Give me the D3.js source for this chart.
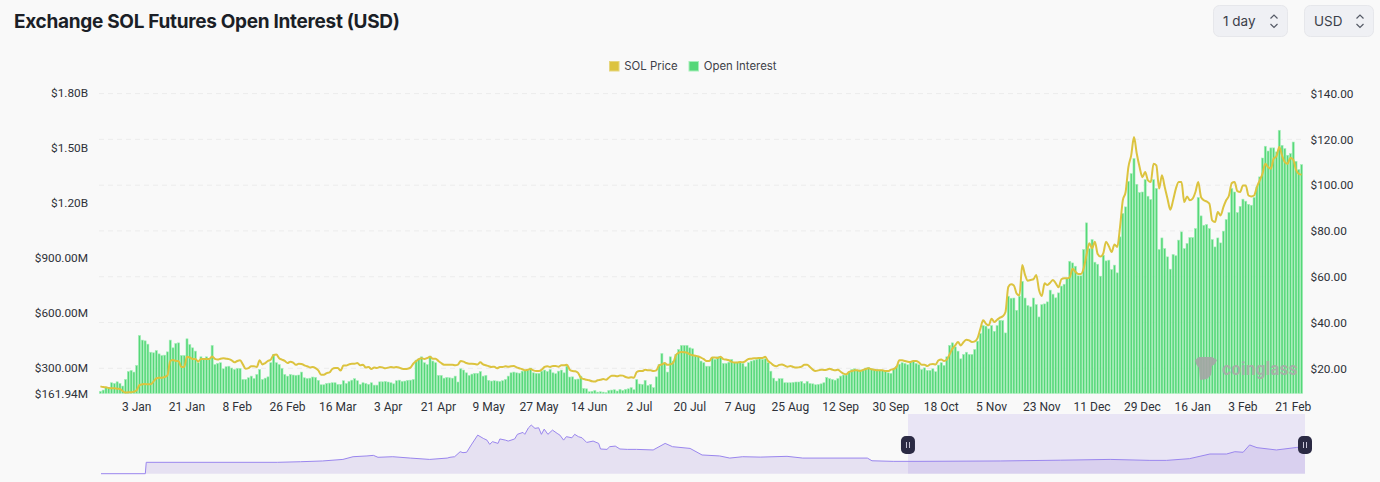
<!DOCTYPE html>
<html>
<head>
<meta charset="utf-8">
<script src="https://cdn.jsdelivr.net/npm/d3@7/dist/d3.min.js"></script>
<style>
html, body { margin: 0; padding: 0; background: #f9f9f9; overflow: hidden; }
svg { display: block; }
</style>
</head>
<body>
<svg width="1380" height="482"></svg>
<script>
// open interest per day, $M
const oi_values = [
173,180,196,193,220,216,225,216,202,238,
281,287,278,314,477,452,448,430,386,383,
395,377,368,370,388,452,410,434,437,368,
368,459,428,410,392,329,361,350,361,347,
423,319,325,329,296,307,310,300,292,298,
298,238,238,247,256,243,265,292,238,245,
252,329,374,329,319,298,265,256,265,262,
260,262,278,247,243,245,251,249,233,209,
209,216,218,220,220,211,211,231,216,227,
234,242,231,211,220,216,211,220,207,207,
225,225,227,224,220,214,231,234,227,229,
233,234,238,343,350,361,329,319,365,338,
329,260,260,245,249,247,245,256,224,
296,289,274,260,267,271,271,281,256,260,
233,229,231,229,227,231,238,256,274,278,
274,272,283,289,292,300,274,271,271,283,
289,281,292,274,269,283,289,274,310,251,
252,238,240,256,189,187,171,173,178,169,
171,169,166,178,180,182,175,184,178,184,
187,193,182,238,213,211,233,205,211,193,
252,319,379,325,278,361,338,374,401,423,
423,423,410,405,368,365,338,329,310,310,
356,347,361,356,325,325,332,347,329,332,
332,325,307,329,338,343,347,350,347,350,
329,283,245,229,242,242,220,220,220,222,
224,224,227,216,227,216,214,209,211,214,
220,249,242,238,234,242,256,262,262,278,
292,296,289,290,289,300,303,296,292,292,
289,287,281,274,271,292,310,321,329,325,
318,332,339,325,318,
292,301,287,287,296,280,316,329,314,
361,423,437,415,392,350,374,386,374,374,
401,446,488,531,528,513,531,500,531,560,
558,491,691,680,681,614,691,772,681,640,
633,681,645,578,645,649,660,
724,702,682,709,746,756,787,881,872,854,
802,802,945,1090,950,999,876,865,800,914,883,
887,836,860,818,1014,1141,1177,1316,1358,1440,
1300,1255,1258,1325,1235,1217,1325,1277,945,1008,
950,905,838,918,911,996,1041,950,978,1010,
1010,1059,1228,1128,1077,1081,1059,999,959,1008,
981,1045,1108,1146,1277,1258,1146,1180,1219,1208,
1191,1186,1228,1286,1340,1443,1507,1481,1498,1498,
1476,1594,1512,1494,1458,1467,1530,1425,1380,1407
]

// SOL price per day, $
const price_values = [
12.1,11.8,11.7,11.4,11.3,11.3,11.1,11.0,10.0,9.4,
9.5,9.5,9.8,10.4,12.7,13.0,13.1,13.0,13.0,14.2,
15.6,15.9,15.9,16.2,16.9,23.2,23.6,23.2,23.1,20.6,
20.6,25.0,24.7,24.1,24.1,22.9,24.1,24.1,24.1,24.1,
25.2,24.1,23.8,24.2,24.4,24.2,24.0,23.5,22.6,23.2,
23.5,21.7,19.8,20.1,20.9,20.9,20.6,23.5,21.7,22.3,
23.2,23.8,25.8,26.0,24.4,23.8,23.2,22.3,22.9,22.5,
21.5,22.0,21.9,21.3,20.9,20.4,20.6,20.1,19.1,17.2,
17.2,17.9,18.2,19.7,20.1,20.1,19.0,21.2,21.2,21.7,
22.0,22.0,22.3,21.3,21.6,20.3,20.6,19.7,20.4,20.1,
20.6,20.4,20.0,20.3,20.6,20.4,20.6,20.3,19.8,19.7,
19.8,20.3,22.0,23.1,24.0,24.4,24.1,24.5,25.0,24.2,
24.2,23.2,22.3,21.6,21.6,21.5,21.6,21.3,21.6,
23.2,22.9,22.3,22.0,22.0,21.9,21.7,22.6,21.7,21.3,
20.9,20.6,20.7,20.0,20.6,20.6,20.9,20.7,20.9,21.0,
20.4,20.0,19.6,19.1,19.4,19.7,19.1,18.8,18.8,19.4,
20.6,20.9,20.6,21.0,21.0,20.7,21.3,21.3,21.6,19.4,
18.8,18.7,18.0,15.9,15.3,15.0,14.8,14.3,14.2,14.8,
15.0,15.3,15.0,15.9,16.8,16.8,16.5,16.9,16.8,16.2,
15.9,16.1,15.9,18.4,18.8,18.8,19.4,19.1,19.1,18.8,
19.1,21.3,21.7,22.3,21.5,21.7,22.3,25.7,26.8,27.1,
27.0,26.8,26.1,25.7,25.5,25.2,24.7,24.0,23.2,23.2,
24.7,24.7,24.5,25.0,24.0,23.8,23.5,22.8,22.5,22.5,
22.8,22.6,23.2,24.1,24.2,24.4,24.4,24.5,24.5,25.0,
23.2,22.3,21.3,20.9,21.5,21.7,21.2,20.7,21.0,20.6,
20.3,20.4,20.7,21.5,21.5,20.6,19.4,18.8,19.1,19.4,
19.3,19.4,19.8,19.4,19.1,19.4,18.5,17.7,17.4,18.4,
18.8,19.1,19.1,18.8,19.3,19.7,20.0,19.6,19.4,19.1,
19.1,19.1,18.8,18.8,19.4,19.7,20.6,23.5,23.5,23.2,
22.9,22.8,23.2,23.2,22.6,
21.6,21.6,21.0,21.7,21.9,21.7,23.5,23.8,23.2,
23.8,26.1,28.6,30.0,31.5,30.0,31.5,32.5,32.2,31.5,
31.8,33.2,37.3,41.0,39.5,38.8,41.7,40.2,41.2,42.1,
42.7,44.6,55.5,56.7,56.2,52.6,51.9,
65.1,60.8,58.3,58.6,58.9,60.8,54.2,51.6,57.1,56.4,
57.4,58.6,57.1,55.4,58.9,59.3,59.3,59.8,63.5,62.2,
61.2,61.2,63.7,69.5,74.6,72.4,75.3,69.9,68.8,70.2,75.3,
73.3,70.8,74.1,73.0,81.7,93.4,97.0,107.9,113.0,121.0,
113.7,107.9,103.5,105.7,102.1,101.4,109.4,108.6,98.5,104.3,
99.2,94.1,89.3,93.4,98.5,101.4,101.4,92.6,95.1,93.4,
94.1,97.0,101.4,94.8,93.4,92.9,91.9,84.6,83.9,88.3,
86.8,90.4,93.4,95.5,100.9,101.4,97.4,97.0,99.9,99.9,
95.5,95.1,95.5,99.2,102.1,105.0,109.4,107.9,107.2,111.6,
112.6,116.7,113.0,110.1,109.4,112.0,111.1,106.7,105.0,104.6
]

// day index of each x axis label, first day is 21 Dec
const x_tick_days = d3.range(13, 431, 18)
const x_tick_labels = ["3 Jan","21 Jan","8 Feb","26 Feb","16 Mar","3 Apr","21 Apr","9 May","27 May","14 Jun","2 Jul","20 Jul","7 Aug","25 Aug","12 Sep","30 Sep","18 Oct","5 Nov","23 Nov","11 Dec","29 Dec","16 Jan","3 Feb","21 Feb"]

const left_tick_values = [161.94, 300, 600, 900, 1200, 1500, 1800]
const left_tick_labels = ["$161.94M","$300.00M","$600.00M","$900.00M","$1.20B","$1.50B","$1.80B"]
const right_tick_values = [20, 40, 60, 80, 100, 120, 140]
const right_tick_labels = ["$20.00","$40.00","$60.00","$80.00","$100.00","$120.00","$140.00"]

// overview strip: whole history, sampled by eye. days from start / open interest in $B
const overview_days = [
0,48,49,191,216,240,262,273,288,295,300,316,335,356,375,
378,383,389,392,396,401,408,414,418,421,424,430,432,438,441,
448,451,457,459,463,466,470,474,477,480,484,489,494,497,501,
504,510,513,517,521,526,533,539,541,548,551,557,562,
570,580,598,611,619,638,651,670,681,695,714,743,760,830,835,858,887,
974,1039,1093,1136,1154,1179,1201,1219,1228,1237,1244,1252,1273,1295,1304
]
const overview_values = [
0,0,0.59,0.59,0.62,0.66,0.74,0.88,0.92,0.95,0.85,0.88,0.81,0.74,0.81,
0.85,0.88,1.14,1.09,1.11,1.49,2.00,1.83,1.74,1.52,1.66,1.57,1.80,1.74,1.69,
1.80,2.04,2.14,2.04,2.38,2.52,2.35,2.38,2.04,2.31,2.04,2.26,2.09,2.00,1.74,
1.92,1.86,2.04,1.92,1.86,1.62,1.69,1.57,1.28,1.26,1.40,1.43,1.28,
1.26,1.26,1.23,1.57,1.40,1.31,0.97,0.92,0.81,0.88,0.86,0.90,0.81,0.81,0.67,0.64,0.64,
0.66,0.70,0.74,0.69,0.69,0.78,1.02,1.02,1.14,1.11,1.49,1.35,1.23,1.36,1.40
]
const window_days = [874, 1304]

const legend_names = ["SOL Price", "Open Interest"]

const green = '#55d778'
const green_edge = '#a6efba'
const gold = '#dcc33f'
const label_font = 'Roboto, sans-serif'
const ui_font = 'Inter, sans-serif'

const svg = d3.select('svg')
svg.style('background-color', '#f9f9f9')

const x_scale = d3.scaleBand()
    .domain(d3.range(oi_values.length))
    .range([99, 1303])
    .paddingInner(0.26)
    .paddingOuter(0.13)

const y_left = d3.scaleLinear().domain([161.94, 1800]).range([393.4, 92.4])
const y_right = d3.scaleLinear().domain([20, 140]).range([368.3, 93.6])

// title
svg.append('text')
    .attr('x', 14).attr('y', 28)
    .attr('font-family', ui_font)
    .attr('font-size', 19)
    .attr('font-weight', 700)
    .attr('letter-spacing', -0.3)
    .attr('fill', '#1b1f27')
    .text('Exchange SOL Futures Open Interest (USD)')

// the two selects
const selects = [
    {label: '1 day', x: 1213.5, w: 74},
    {label: 'USD', x: 1304.5, w: 69}
]
selects.forEach(s => {
    const g = svg.append('g').attr('transform', `translate(${s.x},5.5)`)
    g.append('rect')
        .attr('width', s.w).attr('height', 31).attr('rx', 6)
        .attr('fill', '#eff0f4').attr('stroke', '#e6e7eb')
    g.append('text')
        .attr('x', 9.5).attr('y', 20.5)
        .attr('font-family', ui_font).attr('font-size', 13.5)
        .attr('fill', '#3b3f4a')
        .text(s.label)
    g.append('path')
        .attr('d', `M${s.w - 17},13 l3.5,-3.5 l3.5,3.5 M${s.w - 17},18.5 l3.5,3.5 l3.5,-3.5`)
        .attr('fill', 'none').attr('stroke', '#555a66').attr('stroke-width', 1.2)
})

// legend
const legend_x = [609.5, 689]
const legend_colors = [gold, green]
const legend_edges = ['#e6d67e', green_edge]
legend_names.forEach((name, i) => {
    svg.append('rect')
        .attr('x', legend_x[i]).attr('y', 61.5)
        .attr('width', 9.5).attr('height', 9.5)
        .attr('fill', legend_colors[i])
        .attr('stroke', legend_edges[i])
    svg.append('text')
        .attr('x', legend_x[i] + 14.8).attr('y', 70)
        .attr('font-family', ui_font).attr('font-size', 11.4)
        .attr('fill', '#3e4148')
        .text(name)
})

// grid follows the price axis
svg.append('g').selectAll('line').data(right_tick_values)
    .enter().append('line')
    .attr('x1', 99).attr('x2', 1303)
    .attr('y1', d => y_right(d)).attr('y2', d => y_right(d))
    .attr('stroke', '#ececec')
    .attr('stroke-dasharray', '5 4')

// bars
svg.append('g').selectAll('rect').data(oi_values)
    .enter().append('rect')
    .attr('x', (d, i) => x_scale(i))
    .attr('y', d => y_left(d))
    .attr('width', x_scale.bandwidth())
    .attr('height', d => y_left(161.94) - y_left(d))
    .attr('fill', green)
    .attr('stroke', green_edge)
    .attr('stroke-width', 0.6)

// price line
const price_line = d3.line()
    .x((d, i) => x_scale(i) + x_scale.bandwidth() / 2)
    .y(d => y_right(d))
    .curve(d3.curveMonotoneX)

svg.append('path')
    .datum(price_values)
    .attr('d', price_line)
    .attr('fill', 'none')
    .attr('stroke', gold)
    .attr('stroke-width', 2)

// watermark
const mark = svg.append('g').attr('opacity', 0.9)
mark.append('path')
    .attr('d', 'M1195,360 L1199,357 L1212,357 L1217,360 L1215,364 L1212,366 L1211,375 L1207,379 L1200,380 L1199,368 L1196,364 Z')
    .attr('fill', '#a6a6a6')
mark.append('text')
    .attr('x', 1222).attr('y', 374.5)
    .attr('font-family', label_font).attr('font-size', 17.5).attr('font-weight', 700)
    .attr('fill', '#a8aca8')
    .text('coinglass')

// axes
const style_axis = (g, font_size) => {
    g.select('.domain').remove()
    g.selectAll('.tick line').remove()
    g.selectAll('text')
        .attr('font-family', label_font)
        .attr('font-size', font_size)
        .attr('fill', '#2e3138')
}

svg.append('g')
    .attr('transform', 'translate(0,399)')
    .call(d3.axisBottom(x_scale)
        .tickValues(x_tick_days)
        .tickSize(0)
        .tickFormat((d, i) => x_tick_labels[i]))
    .call(style_axis, 12)

svg.append('g')
    .attr('transform', 'translate(88,0)')
    .call(d3.axisLeft(y_left)
        .tickValues(left_tick_values)
        .tickSize(0).tickPadding(0)
        .tickFormat((d, i) => left_tick_labels[i]))
    .call(style_axis, 11.8)

svg.append('g')
    .attr('transform', 'translate(1310.5,0)')
    .call(d3.axisRight(y_right)
        .tickValues(right_tick_values)
        .tickSize(0).tickPadding(0)
        .tickFormat((d, i) => right_tick_labels[i]))
    .call(style_axis, 11.8)

// overview strip
const overview_x = d3.scaleLinear().domain([0, 1304]).range([101, 1305])
const overview_y = d3.scaleLinear().domain([0, 3]).range([473.7, 415.8])

svg.append('path')
    .datum(overview_values)
    .attr('d', d3.area()
        .x((d, i) => overview_x(overview_days[i]))
        .y0(overview_y(0))
        .y1(d => overview_y(d)))
    .attr('fill', '#e6e1f2')

svg.append('rect')
    .attr('x', overview_x(window_days[0]))
    .attr('y', 414)
    .attr('width', overview_x(window_days[1]) - overview_x(window_days[0]))
    .attr('height', 59.7)
    .attr('fill', '#7c5ce0')
    .attr('fill-opacity', 0.12)

svg.append('path')
    .datum(overview_values)
    .attr('d', d3.line()
        .x((d, i) => overview_x(overview_days[i]))
        .y(d => overview_y(d)))
    .attr('fill', 'none')
    .attr('stroke', '#9a86ee')
    .attr('stroke-width', 1)

window_days.forEach(day => {
    const g = svg.append('g').attr('transform', `translate(${overview_x(day)},445)`)
    g.append('rect')
        .attr('x', -7).attr('y', -9)
        .attr('width', 14).attr('height', 18).attr('rx', 5)
        .attr('fill', '#2b2a44')
    g.append('path')
        .attr('d', 'M-1.5,-3 V3 M1.5,-3 V3')
        .attr('stroke', '#c9c6d8').attr('stroke-width', 1)
})
</script>
</body>
</html>
